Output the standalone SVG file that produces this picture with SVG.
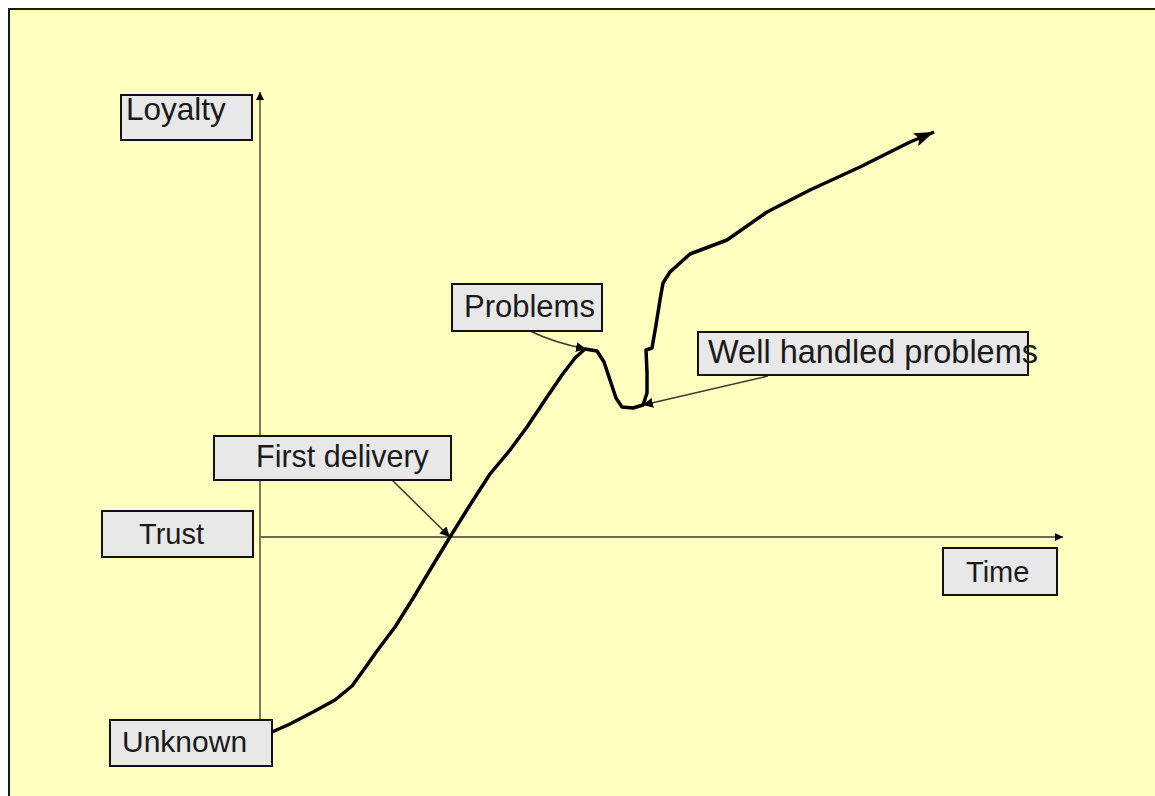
<svg xmlns="http://www.w3.org/2000/svg" width="1155" height="796" viewBox="0 0 1155 796">
<style>
.box{fill:#e8e8e8;stroke:#111;stroke-width:2}
.lbl{font-family:"Liberation Sans",Arial,sans-serif;fill:#1a1a1a}
.axis{stroke:#6e6c52;stroke-width:1.8;fill:none}
.conn{stroke:#3a3a2a;stroke-width:1.5;fill:none}
.curve{stroke:#000;stroke-width:3.5;fill:none;stroke-linejoin:round;stroke-linecap:butt}
</style>
<defs>
<marker id="ah" viewBox="0 0 10 10" refX="10" refY="5" markerWidth="9" markerHeight="8" markerUnits="userSpaceOnUse" orient="auto">
<path d="M0,0 L10,5 L0,10 z" fill="#000"/>
</marker>
<marker id="ahc" viewBox="0 0 10 10" refX="10" refY="5" markerWidth="10" markerHeight="10" markerUnits="userSpaceOnUse" orient="auto">
<path d="M0,0 L10,5 L0,10 z" fill="#000"/>
</marker>
<marker id="ahe" viewBox="0 0 20 14" refX="20" refY="7" markerWidth="20" markerHeight="14" markerUnits="userSpaceOnUse" orient="auto">
<path d="M0,0 L20,7 L0,14 L4,7 z" fill="#000"/>
</marker>
</defs>
<rect x="0" y="0" width="1155" height="796" fill="#fff"/>
<rect x="9" y="9" width="1160" height="800" fill="#ffffc0" stroke="#1a1a1a" stroke-width="2"/>
<g id="connectors">
<line class="axis" x1="260" y1="720" x2="260" y2="92" marker-end="url(#ah)"/>
<line class="axis" x1="260" y1="537" x2="1063" y2="537" marker-end="url(#ah)"/>
<path class="conn" d="M530,331 Q555,343 586,349" marker-end="url(#ahc)"/>
<path class="conn" d="M768,376 Q700,392 643,405" marker-end="url(#ahc)"/>
<path class="conn" d="M392,480 L450,537" marker-end="url(#ahc)"/>
<polyline class="curve" points="272,732 290,724 313,712 335,700 352,686 365,668 377,651 395,627 412,600 430,570 450,537 470,505 490,474 510,450 527,427 545,400 562,375 575,358 585,349 597,351 604,362 610,380 616,398 622,407 633,408 643,405 647,393 647,372 646,350 652,348 656,325 660,300 663,283 670,272 690,254 727,240 767,212 810,190 860,167 910,142 934,132" marker-end="url(#ahe)"/>
</g>
<g id="loyalty"><rect class="box" x="121" y="95" width="131" height="45"/><text class="lbl" x="126" y="120" font-size="31.5">Loyalty</text></g>
<g id="problems"><rect class="box" x="452" y="284" width="150" height="47"/><text class="lbl" x="464" y="317" font-size="31">Problems</text></g>
<g id="well-handled"><rect class="box" x="698" y="332" width="330" height="43"/><text class="lbl" x="708" y="363" font-size="32.5">Well handled problems</text></g>
<g id="first-delivery"><rect class="box" x="214" y="436" width="237" height="44"/><text class="lbl" x="256" y="467" font-size="30.5">First delivery</text></g>
<g id="trust"><rect class="box" x="102" y="511" width="151" height="46"/><text class="lbl" x="139" y="544" font-size="29">Trust</text></g>
<g id="time"><rect class="box" x="943" y="548" width="114" height="47"/><text class="lbl" x="966" y="582" font-size="29">Time</text></g>
<g id="unknown"><rect class="box" x="110" y="720" width="162" height="46"/><text class="lbl" x="122" y="752" font-size="30">Unknown</text></g>
</svg>
